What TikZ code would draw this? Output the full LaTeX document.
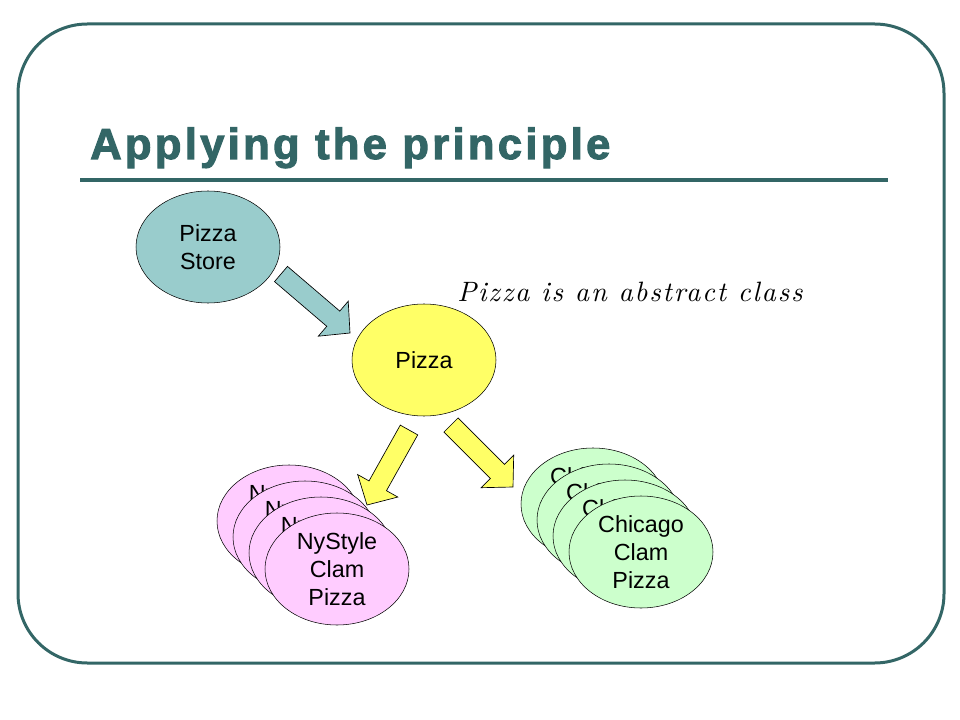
\documentclass[tikz,border=0pt]{standalone}
\usepackage{fontspec}
\newfontfamily\arialfont{Liberation Sans}
\newfontfamily\titlefont[BoldFeatures={FakeBold=2.5,LetterSpace=7.7}]{Liberation Sans}
\newfontfamily\notefont[LetterSpace=6.5]{lmroman10-italic.otf}
\usetikzlibrary{shapes.geometric,calc}

\definecolor{frameteal}{RGB}{51,102,102}
\definecolor{storeteal}{RGB}{153,204,204}
\definecolor{pizzayellow}{RGB}{255,255,102}
\definecolor{nypink}{RGB}{255,204,255}
\definecolor{chigreen}{RGB}{204,255,204}

% fat block arrow from #2 to #3
\newcommand{\fatarrow}[3]{%
  \coordinate (fa-h) at ($(#3)!16.5pt!(#2)$);
  \draw[#1] ($(#2)!7.5pt!90:(#3)$) -- ($(fa-h)!7.5pt!-90:(#2)$)
    -- ($(fa-h)!17.25pt!-90:(#2)$) -- (#3) -- ($(fa-h)!17.25pt!90:(#2)$)
    -- ($(fa-h)!7.5pt!90:(#2)$) -- ($(#2)!7.5pt!-90:(#3)$) -- cycle;}

\begin{document}
\begin{tikzpicture}[x=0.75pt, y=-0.75pt,
  every node/.style = {font=\arialfont\fontsize{17.5}{21}\selectfont},
  blob/.style = {draw, shape=ellipse, inner sep=0pt, align=center,
                 minimum width=108pt, minimum height=84pt},
  fat/.style = {draw, line width=0.5pt}]
\useasboundingbox (0,0) rectangle (960,720);

\draw [frameteal, line width=2.25pt, rounded corners=52pt] (18,24) rectangle (944,663);

\node (title) at (90,159) [anchor=base west, inner sep=0pt, text=frameteal,
  font=\titlefont\bfseries\fontsize{32.6}{38}\selectfont] {Applying the principle};
\draw [frameteal, line width=3pt] (80,180) -- (888,180);

\node (store) at (208,247) [blob, fill=storeteal] {Pizza\\Store};
\node (pizza) at (424,360) [blob, fill=pizzayellow] {Pizza};

\node (note) at (457,301) [anchor=base west, inner sep=0pt,
  font=\notefont\fontsize{21}{25}\selectfont] {Pizza is an abstract class};

% the two stacks
\foreach \i in {0,...,3}
  \node (ny\i) at ({289+16*\i},{521+16*\i}) [blob, fill=nypink] {NyStyle\\Clam\\Pizza};
\foreach \i in {0,...,3}
  \node (chi\i) at ({593+16*\i},{504+16*\i}) [blob, fill=chigreen] {Chicago\\Clam\\Pizza};

\coordinate (a1start) at (281,274);
\coordinate (a1end) at (350,333);
\coordinate (a2start) at (409,430);
\coordinate (a2end) at (367,505);
\coordinate (a3start) at (451,425);
\coordinate (a3end) at (513,487);

\fatarrow{fat, fill=storeteal}{a1start}{a1end}
\fatarrow{fat, fill=pizzayellow}{a2start}{a2end}
\fatarrow{fat, fill=pizzayellow}{a3start}{a3end}

\end{tikzpicture}
\end{document}
